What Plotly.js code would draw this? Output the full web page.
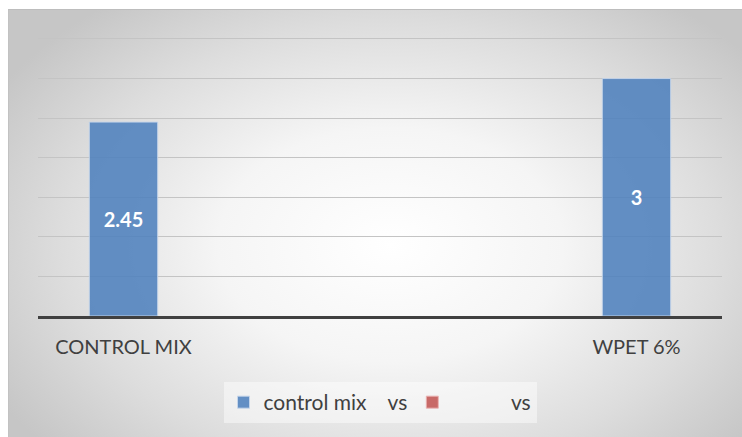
<!DOCTYPE html>
<html>
<head>
<meta charset="utf-8">
<script src="https://cdn.plot.ly/plotly-3.0.1.min.js"></script>
<style>
  html, body { margin: 0; padding: 0; background: #ffffff; }
  #bg {
    position: absolute; left: 8px; top: 9px; width: 734px; height: 428px;
    background: radial-gradient(ellipse 62% 72% at 52% 55%, #ffffff 0%, #f5f5f5 38%, #dddddd 72%, #c6c6c6 100%);
    border-top: 1px solid #bdbdbd; border-left: 1px solid #c2c2c2;
    box-sizing: border-box;
  }
  #chart { position: absolute; left: 0; top: 0; width: 742px; height: 437px; }
</style>
</head>
<body>
<div id="bg"></div>
<div id="chart"></div>
<script>
const positions = [0, 3];
const tickLabels = ["CONTROL MIX", "WPET 6%"];
const values = [2.45, 3];
const seriesNames = ["control mix\u00a0\u00a0\u00a0\u00a0vs", "\u00a0\u00a0\u00a0\u00a0\u00a0\u00a0\u00a0\u00a0\u00a0\u00a0\u00a0vs"];
const emptySeries = [null, null];

const traces = [
  {
    type: 'bar', x: positions, y: values, name: seriesNames[0],
    width: 0.4,
    marker: { color: 'rgba(79,129,189,0.88)', line: { color: 'rgba(200,215,235,0.9)', width: 1 } },
    text: values.map(v => String(v)), textposition: 'inside', insidetextanchor: 'middle',
    textfont: { color: '#ffffff', size: 20, family: 'Lato, "Liberation Sans", sans-serif', weight: 'bold' },
    hoverinfo: 'none'
  },
  {
    type: 'bar', x: positions, y: emptySeries, name: seriesNames[1],
    width: 0.4,
    marker: { color: 'rgba(192,80,77,0.85)', line: { color: 'rgba(235,180,180,0.9)', width: 1 } },
    hoverinfo: 'none'
  }
];

const layout = {
  width: 742, height: 437,
  margin: { l: 38, r: 20, t: 37, b: 121 },
  paper_bgcolor: 'rgba(0,0,0,0)', plot_bgcolor: 'rgba(0,0,0,0)',
  barmode: 'overlay',
  showlegend: true,
  font: { family: 'Lato, "Liberation Sans", sans-serif', color: '#404040' },
  xaxis: {
    range: [-0.5, 3.5], tickmode: 'array', tickvals: positions, ticktext: tickLabels,
    showgrid: false, zeroline: false, showline: true, linecolor: '#404040', linewidth: 3,
    ticks: '', tickfont: { size: 20, color: '#404040' }, ticklabelstandoff: 11, fixedrange: true
  },
  yaxis: {
    range: [0, 3.525], tick0: 0, dtick: 0.5, showticklabels: false, showgrid: true,
    gridcolor: '#c4c4c4', gridwidth: 1, zeroline: false, ticks: '', fixedrange: true
  },
  legend: {
    orientation: 'h', x: 0.50, xanchor: 'center', y: -0.31, yanchor: 'middle',
    bgcolor: 'rgba(255,255,255,0.45)', font: { size: 21, color: '#404040' },
    itemwidth: 30, traceorder: 'normal'
  }
};

Plotly.newPlot('chart', traces, layout, { displayModeBar: false, staticPlot: true });
</script>
</body>
</html>
